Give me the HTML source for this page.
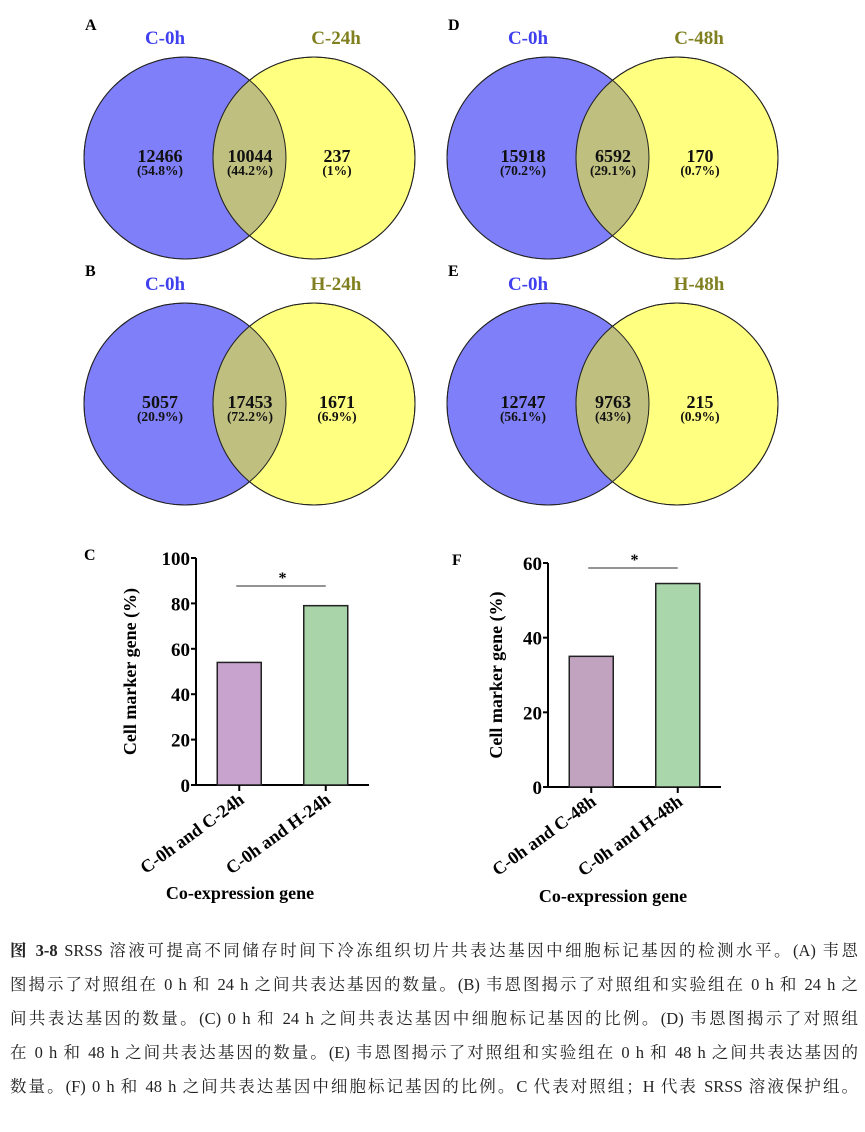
<!DOCTYPE html>
<html><head><meta charset="utf-8">
<style>
body{margin:0;background:#fff;width:865px;height:1132px;overflow:hidden;position:relative;font-family:"Liberation Serif","Noto Serif CJK SC",serif}
svg{position:absolute;left:0;top:0}
.cap{position:absolute;left:10px;width:848px;font-size:16.5px;color:#222;text-align:justify;text-align-last:justify;white-space:nowrap;font-family:"Liberation Serif","Noto Serif CJK SC",serif}
</style></head><body>
<svg width="865" height="930" font-family="Liberation Serif, serif" font-weight="bold">
<g id="venns"></g>
<g id="barC"></g>
<g id="barF"></g>
</svg>
<div class="cap" style="top:937px"><b>图 3-8</b> SRSS 溶液可提高不同储存时间下冷冻组织切片共表达基因中细胞标记基因的检测水平。(A) 韦恩</div>
<div class="cap" style="top:971px">图揭示了对照组在 0 h 和 24 h 之间共表达基因的数量。(B) 韦恩图揭示了对照组和实验组在 0 h 和 24 h 之</div>
<div class="cap" style="top:1005px">间共表达基因的数量。(C) 0 h 和 24 h 之间共表达基因中细胞标记基因的比例。(D) 韦恩图揭示了对照组</div>
<div class="cap" style="top:1039px">在 0 h 和 48 h 之间共表达基因的数量。(E) 韦恩图揭示了对照组和实验组在 0 h 和 48 h 之间共表达基因的</div>
<div class="cap" style="top:1073px">数量。(F) 0 h 和 48 h 之间共表达基因中细胞标记基因的比例。C 代表对照组；H 代表 SRSS 溶液保护组。</div>
<script>
const NS='http://www.w3.org/2000/svg';
function mk(p,t,a,txt){const e=document.createElementNS(NS,t);for(const k in a)e.setAttribute(k,a[k]);if(txt!==undefined)e.textContent=txt;p.appendChild(e);return e;}
const vennLetters=['A','D','B','E'];
const vennLeftLabels=['C-0h','C-0h','C-0h','C-0h'];
const vennRightLabels=['C-24h','C-48h','H-24h','H-48h'];
const vennLeftCounts=['12466','15918','5057','12747'];
const vennMidCounts=['10044','6592','17453','9763'];
const vennRightCounts=['237','170','1671','215'];
const vennLeftPct=['(54.8%)','(70.2%)','(20.9%)','(56.1%)'];
const vennMidPct=['(44.2%)','(29.1%)','(72.2%)','(43%)'];
const vennRightPct=['(1%)','(0.7%)','(6.9%)','(0.9%)'];
const V=document.getElementById('venns');
const origins=[[0,0],[363,0],[0,246],[363,246]];
for(let i=0;i<4;i++){
  const [ox,oy]=origins[i];
  const g=mk(V,'g',{});
  
  
  const cy=158+oy, lx=185+ox, rx=314+ox, r=101;
  mk(g,'circle',{cx:lx,cy:cy,r:r,fill:'#7f7ff9',stroke:'#222','stroke-width':1});
  mk(g,'circle',{cx:rx,cy:cy,r:r,fill:'#ffff80',stroke:'#222','stroke-width':1});
  const cp=mk(g,'clipPath',{id:'cl'+i});mk(cp,'circle',{cx:lx,cy:cy,r:r});
  mk(g,'circle',{cx:rx,cy:cy,r:r,fill:'#bfbf80','clip-path':'url(#cl'+i+')'});
  mk(g,'circle',{cx:lx,cy:cy,r:r,fill:'none',stroke:'#222','stroke-width':1});
  mk(g,'circle',{cx:rx,cy:cy,r:r,fill:'none',stroke:'#222','stroke-width':1});
  mk(g,'text',{x:85+ox,y:30+oy,'font-size':16,fill:'#000'},vennLetters[i]);
  mk(g,'text',{x:165+ox,y:44+oy,'font-size':19,fill:'#4040ee','text-anchor':'middle'},vennLeftLabels[i]);
  mk(g,'text',{x:336+ox,y:44+oy,'font-size':19,fill:'#808020','text-anchor':'middle'},vennRightLabels[i]);
  const xs=[160+ox,250+ox,337+ox];
  const cnt=[vennLeftCounts[i],vennMidCounts[i],vennRightCounts[i]];
  const pc=[vennLeftPct[i],vennMidPct[i],vennRightPct[i]];
  for(let j=0;j<3;j++){
    mk(g,'text',{x:xs[j],y:162+oy,'font-size':18,'text-anchor':'middle',fill:'#111'},cnt[j]);
    mk(g,'text',{x:xs[j],y:175+oy,'font-size':13.5,'text-anchor':'middle',fill:'#111'},pc[j]);
  }
}
const catsC=['C-0h and C-24h','C-0h and H-24h'];
const valsC=[54,79];
const ticksC=[0,20,40,60,80,100];
const catsF=['C-0h and C-48h','C-0h and H-48h'];
const valsF=[35,54.5];
const ticksF=[0,20,40,60];
function bar(gid,letter,cats,vals,ticks,cfg){
  const g=document.getElementById(gid);
  
  
  const max=ticks[ticks.length-1];
  const y=v=>cfg.y0-(v/max)*(cfg.y0-cfg.yTop);
  mk(g,'text',{x:cfg.letterX,y:cfg.yTop+2,'font-size':16},letter);
  mk(g,'line',{x1:cfg.ax,y1:cfg.yTop,x2:cfg.ax,y2:cfg.y0,stroke:'#000','stroke-width':2});
  mk(g,'line',{x1:cfg.ax,y1:cfg.y0,x2:cfg.xEnd,y2:cfg.y0,stroke:'#000','stroke-width':2});
  ticks.forEach(t=>{
    mk(g,'line',{x1:cfg.ax-5,y1:y(t),x2:cfg.ax,y2:y(t),stroke:'#000','stroke-width':2});
    const tl=mk(g,'text',{x:cfg.ax-6,y:y(t)+7,'font-size':19,'text-anchor':'end'},String(t));
    
    
  });
  const step=(cfg.xEnd-cfg.ax)/2;
  vals.forEach((v,i)=>{
    const cx=cfg.ax+step*(i+0.5)+cfg.shift;
    const b=mk(g,'rect',{x:cx-22,y:y(v),width:44,height:cfg.y0-y(v),fill:cfg.colors[i],stroke:'#222','stroke-width':1.5});
    
    
    mk(g,'line',{x1:cx,y1:cfg.y0,x2:cx,y2:cfg.y0+6,stroke:'#000','stroke-width':2});
    const tx=cx+6, ty=cfg.y0+17;
    const t=mk(g,'text',{x:tx,y:ty,'font-size':18,'text-anchor':'end',transform:'rotate(-36 '+tx+' '+ty+')'},cats[i]);
    
    
  });
  const c0=cfg.ax+step*0.5+cfg.shift, c1=cfg.ax+step*1.5+cfg.shift;
  mk(g,'line',{x1:c0-3,y1:cfg.sigY,x2:c1,y2:cfg.sigY,stroke:'#555','stroke-width':1.2});
  mk(g,'text',{x:(c0+c1)/2,y:cfg.sigY-3,'font-size':16,'text-anchor':'middle'},'*');
  const yt=mk(g,'text',{x:cfg.ytX,y:(cfg.yTop+cfg.y0)/2,'font-size':18,'text-anchor':'middle',transform:'rotate(-90 '+cfg.ytX+' '+((cfg.yTop+cfg.y0)/2)+')'},'Cell marker gene (%)');
  
  
  const xt=mk(g,'text',{x:cfg.xtX,y:cfg.xtY,'font-size':18,'text-anchor':'middle'},'Co-expression gene');
  
  
}
bar('barC','C',catsC,valsC,ticksC,{ax:196,yTop:558,y0:785,xEnd:369,shift:0,colors:['#c8a3cd','#a9d3a8'],sigY:586,letterX:84,ytX:136,xtX:240,xtY:899});
bar('barF','F',catsF,valsF,ticksF,{ax:548,yTop:563,y0:787,xEnd:721,shift:0,colors:['#c1a2bf','#a9d6aa'],sigY:568,letterX:452,ytX:502,xtX:613,xtY:902});
</script>
</body></html>
